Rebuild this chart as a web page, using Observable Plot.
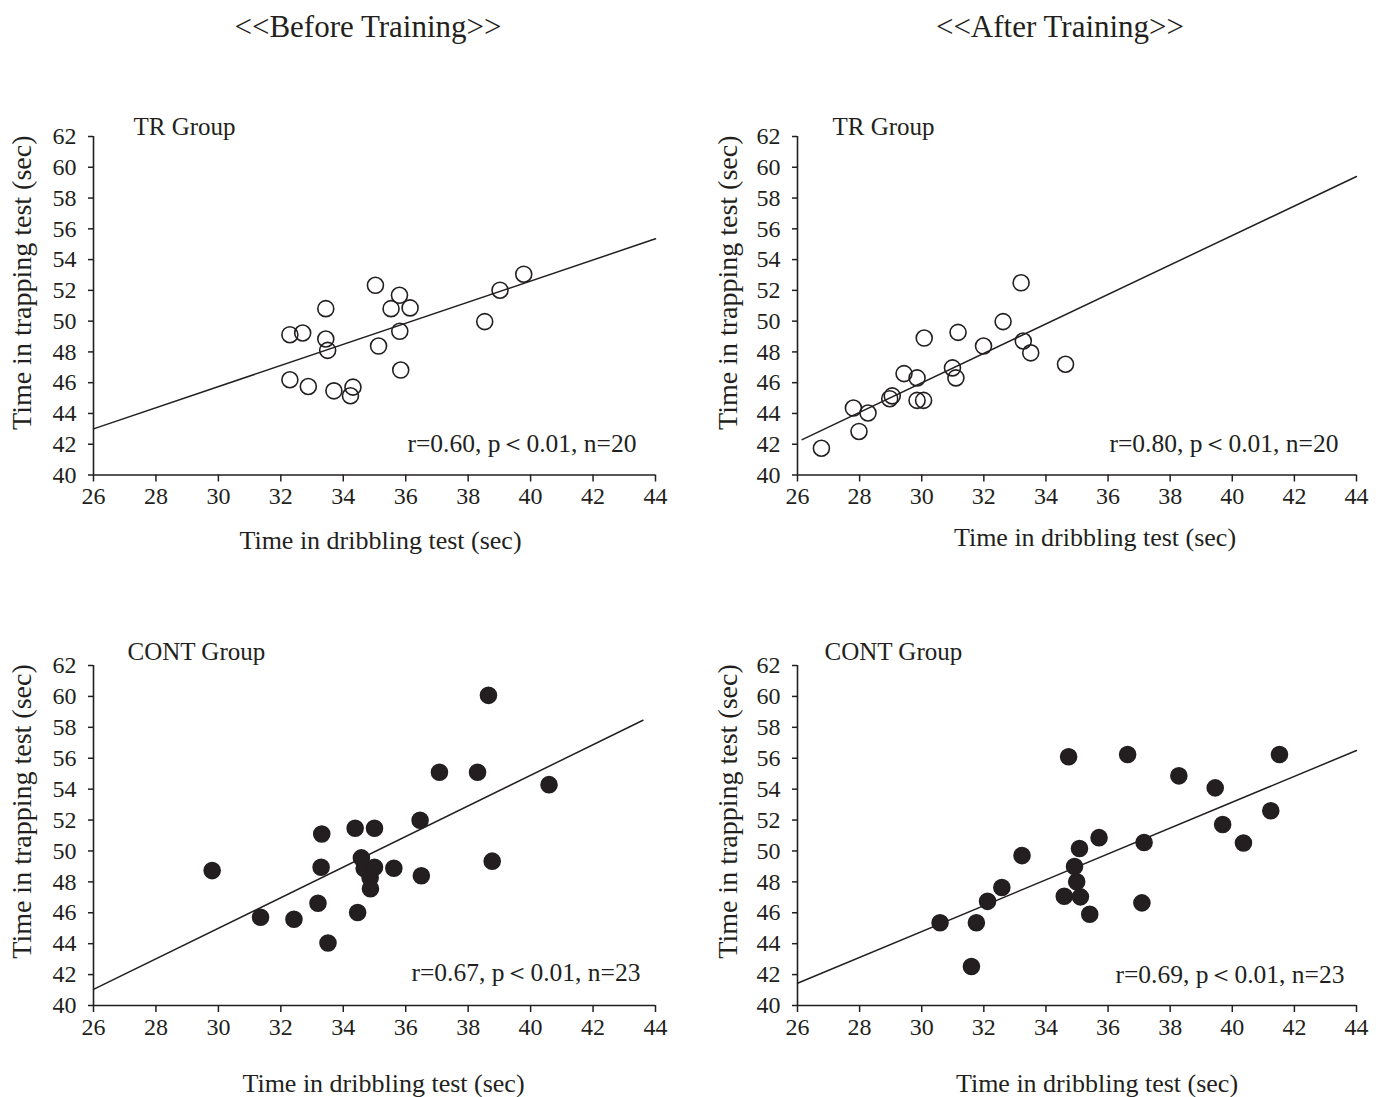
<!DOCTYPE html>
<html>
<head>
<meta charset="utf-8">
<script src="https://cdn.jsdelivr.net/npm/d3@7"></script>
<script src="https://cdn.jsdelivr.net/npm/@observablehq/plot@0.6"></script>
<style>
  html, body { margin: 0; padding: 0; background: #fff; width: 1383px; height: 1097px; overflow: hidden; position: relative; }
  .title { position: absolute; font-family: "Liberation Serif", "Times New Roman", serif; font-size: 31px; color: #231f20; white-space: nowrap; transform: translate(-50%, -50%); }
  .panel { position: absolute; overflow: visible; }
  .panel svg { max-width: none !important; display: block; }
</style>
</head>
<body>
<div class="title" style="left:368px; top:27px;">&lt;&lt;Before Training&gt;&gt;</div>
<div class="title" style="left:1060px; top:27px;">&lt;&lt;After Training&gt;&gt;</div>
<div id="p1" class="panel"></div>
<div id="p2" class="panel"></div>
<div id="p3" class="panel"></div>
<div id="p4" class="panel"></div>
<script>
// ---- tick labels / axes ----
const xTicks = [26, 28, 30, 32, 34, 36, 38, 40, 42, 44];
const yTicks = [40, 42, 44, 46, 48, 50, 52, 54, 56, 58, 60, 62];
const xLabel = "Time in dribbling test (sec)";
const yLabel = "Time in trapping test (sec)";

// ---- TR group, before training ----
const trBeforeX = [32.29, 32.70, 33.44, 33.44, 33.50, 32.29, 32.88, 33.70, 34.23, 34.31, 35.03, 35.13, 35.53, 35.80, 36.14, 35.81, 35.84, 38.53, 39.02, 39.78];
const trBeforeY = [49.12, 49.23, 50.81, 48.84, 48.10, 46.19, 45.75, 45.47, 45.15, 45.71, 52.33, 48.38, 50.81, 51.68, 50.86, 49.34, 46.82, 49.97, 52.01, 53.05];
const trBeforeLineX = [26, 44];
const trBeforeLineY = [43.0, 55.35];

// ---- TR group, after training ----
const trAfterX = [26.77, 27.80, 27.98, 28.27, 28.97, 29.05, 29.43, 29.85, 29.85, 30.06, 30.08, 30.99, 31.10, 31.17, 31.99, 32.62, 33.20, 33.27, 33.51, 34.63];
const trAfterY = [41.74, 44.35, 42.83, 44.03, 44.96, 45.14, 46.59, 46.31, 44.85, 44.85, 48.90, 46.96, 46.31, 49.27, 48.38, 49.97, 52.49, 48.71, 47.94, 47.20];
const trAfterLineX = [26.15, 44];
const trAfterLineY = [42.3, 59.4];

// ---- CONT group, before training ----
const contBeforeX = [29.80, 31.35, 32.42, 33.19, 33.29, 33.31, 33.51, 34.38, 34.46, 34.58, 34.67, 34.86, 34.87, 35.00, 35.00, 35.62, 36.46, 36.50, 37.08, 38.30, 38.65, 38.77, 40.59];
const contBeforeY = [48.73, 45.71, 45.58, 46.62, 48.95, 51.10, 44.04, 51.47, 46.02, 49.55, 48.86, 48.25, 47.56, 48.95, 51.47, 48.88, 51.99, 48.40, 55.09, 55.09, 60.07, 49.34, 54.29];
const contBeforeLineX = [26, 43.6];
const contBeforeLineY = [41.04, 58.46];

// ---- CONT group, after training ----
const contAfterX = [30.59, 31.60, 31.76, 32.12, 32.58, 33.23, 34.59, 34.73, 34.92, 34.99, 35.08, 35.11, 35.41, 35.71, 36.63, 37.09, 37.16, 38.28, 39.45, 39.69, 40.36, 41.24, 41.52];
const contAfterY = [45.35, 42.52, 45.35, 46.74, 47.64, 49.70, 47.07, 56.10, 48.99, 48.01, 50.16, 47.03, 45.90, 50.86, 56.24, 46.64, 50.55, 54.86, 54.08, 51.71, 50.51, 52.60, 56.24];
const contAfterLineX = [26, 44];
const contAfterLineY = [41.44, 56.50];

const ink = "#231f20";
const font = "'Liberation Serif', 'Times New Roman', serif";

function panel(el, cfg) {
  const left = cfg.fx0 - 93;
  const top = cfg.fy0 - 50;
  const mr = 25;
  const width = (cfg.fx1 - left) + mr;
  const mb = cfg.mb;
  const height = (cfg.fy1 - top) + mb;
  const pts = cfg.xs.map((x, i) => ({x, y: cfg.ys[i]}));
  const fit = cfg.lx.map((x, i) => ({x, y: cfg.ly[i]}));
  const chart = Plot.plot({
    width, height,
    marginLeft: 93, marginTop: 50, marginRight: mr, marginBottom: mb,
    x: {domain: [xTicks[0], xTicks[xTicks.length - 1]]},
    y: {domain: [yTicks[0], yTicks[yTicks.length - 1]]},
    style: {fontFamily: font, fontSize: "24px", color: ink, background: "transparent", overflow: "visible"},
    marks: [
      Plot.axisX({ticks: xTicks, tickSize: 7, tickPadding: 5, label: null, fontSize: 24, stroke: ink, strokeWidth: 1.5, fill: ink}),
      Plot.axisY({ticks: yTicks, tickSize: 5, tickPadding: 12, label: null, fontSize: 24, stroke: ink, strokeWidth: 1.5, fill: ink}),
      Plot.ruleX([xTicks[0]], {stroke: ink, strokeWidth: 1.6}),
      Plot.ruleY([yTicks[0]], {stroke: ink, strokeWidth: 1.6}),
      Plot.line(fit, {x: "x", y: "y", stroke: ink, strokeWidth: 1.5}),
      Plot.dot(pts, {x: "x", y: "y", r: 8, stroke: ink, strokeWidth: 1.6, fill: cfg.filled ? ink : "none"}),
      Plot.text([cfg.group], {text: d => d, frameAnchor: "top-left", textAnchor: "start", lineAnchor: "middle", dx: cfg.gdx, dy: cfg.gdy, fontSize: 25, fill: ink}),
      Plot.text([cfg.stat], {text: d => d, frameAnchor: "bottom-right", textAnchor: "end", lineAnchor: "middle", dx: cfg.sdx, dy: cfg.sdy, fontSize: 25.5, fill: ink}),
      Plot.text([xLabel], {text: d => d, frameAnchor: "bottom", textAnchor: "middle", lineAnchor: "middle", dx: cfg.xldx, dy: cfg.xldy, fontSize: 26, fill: ink}),
      Plot.text([yLabel], {text: d => d, frameAnchor: "left", rotate: -90, textAnchor: "middle", lineAnchor: "middle", dx: cfg.yldx, dy: cfg.yldy, fontSize: 28, fill: ink})
    ]
  });
  el.style.left = left + "px";
  el.style.top = top + "px";
  el.style.width = width + "px";
  el.style.height = height + "px";
  el.appendChild(chart);
}

panel(document.getElementById("p1"), {
  fx0: 93, fx1: 655, fy0: 135.5, fy1: 474, mb: 90,
  xs: trBeforeX, ys: trBeforeY, lx: trBeforeLineX, ly: trBeforeLineY, filled: false,
  group: "TR Group", gdx: 40, gdy: -10,
  stat: "r=0.60, p\uFF1C0.01, n=20", sdx: -19, sdy: -31,
  xldx: 6, xldy: 66, yldx: -71, yldy: -23
});
panel(document.getElementById("p2"), {
  fx0: 797, fx1: 1356, fy0: 135.5, fy1: 474, mb: 90,
  xs: trAfterX, ys: trAfterY, lx: trAfterLineX, ly: trAfterLineY, filled: false,
  group: "TR Group", gdx: 35, gdy: -10,
  stat: "r=0.80, p\uFF1C0.01, n=20", sdx: -18, sdy: -31,
  xldx: 18, xldy: 63, yldx: -69, yldy: -23
});
panel(document.getElementById("p3"), {
  fx0: 93, fx1: 655, fy0: 665, fy1: 1005, mb: 90,
  xs: contBeforeX, ys: contBeforeY, lx: contBeforeLineX, ly: contBeforeLineY, filled: true,
  group: "CONT Group", gdx: 34, gdy: -14,
  stat: "r=0.67, p\uFF1C0.01, n=23", sdx: -15, sdy: -33,
  xldx: 9, xldy: 78, yldx: -71, yldy: -24
});
panel(document.getElementById("p4"), {
  fx0: 797, fx1: 1356, fy0: 665, fy1: 1005, mb: 90,
  xs: contAfterX, ys: contAfterY, lx: contAfterLineX, ly: contAfterLineY, filled: true,
  group: "CONT Group", gdx: 27, gdy: -14,
  stat: "r=0.69, p\uFF1C0.01, n=23", sdx: -12, sdy: -31,
  xldx: 20, xldy: 78, yldx: -69, yldy: -24
});
</script>
</body>
</html>
